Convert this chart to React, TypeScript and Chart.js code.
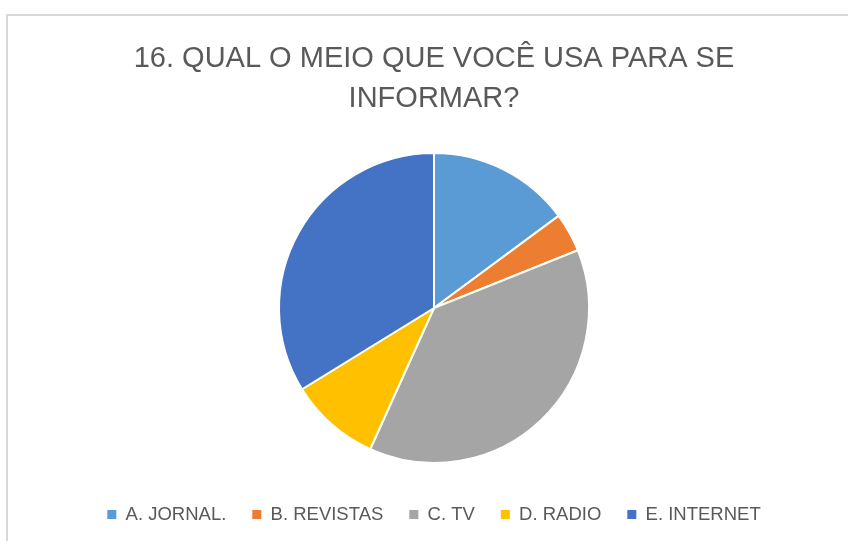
import React, { useEffect, useRef } from "react";
import { Chart, registerables } from "chart.js";

Chart.register(...registerables);

const categories = ["A. JORNAL.", "B. REVISTAS", "C. TV", "D. RADIO", "E. INTERNET"];
const values = [11, 3, 28, 7, 25];
const colors = ["#5B9BD5", "#ED7D31", "#A5A5A5", "#FFC000", "#4472C4"];
const titleLines = ["16. QUAL O MEIO QUE VOCÊ USA PARA SE", "INFORMAR?"];

export default function App() {
  const ref = useRef<HTMLCanvasElement | null>(null);

  useEffect(() => {
    if (!ref.current) return;
    const defaultGen = (Chart as any).overrides.pie.plugins.legend.labels.generateLabels;
    const chart = new Chart(ref.current, {
      type: "pie",
      data: {
        labels: categories,
        datasets: [
          {
            data: values,
            backgroundColor: colors,
            borderColor: "#FFFFFF",
            borderWidth: 2,
            radius: 155,
          } as any,
        ],
      },
      options: {
        responsive: false,
        animation: false,
        layout: { padding: { left: 20, right: 0, top: 0, bottom: 7.25 } },
        plugins: {
          title: {
            display: true,
            text: titleLines,
            color: "#595959",
            font: { family: "'Liberation Sans', Arial, sans-serif", size: 29, weight: "normal", lineHeight: 40 / 29 },
            padding: { top: 38.5, bottom: 18.25 },
          },
          legend: {
            display: true,
            position: "bottom",
            labels: {
              color: "#595959",
              font: { family: "'Liberation Sans', Arial, sans-serif", size: 18.5 },
              boxWidth: 9,
              boxHeight: 9,
              padding: 26,
              generateLabels: (c: any) =>
                defaultGen(c).map((l: any) => ({ ...l, lineWidth: 0, strokeStyle: "rgba(0,0,0,0)" })),
            },
          },
          tooltip: { enabled: false },
        },
      },
    });
    return () => chart.destroy();
  }, []);

  return (
    <div
      style={{
        position: "fixed",
        left: 0,
        top: 0,
        width: 848,
        height: 541,
        overflow: "hidden",
        background: "#FFFFFF",
      }}
    >
      <div
        style={{
          position: "absolute",
          left: 6,
          top: 14,
          width: 900,
          height: 600,
          borderLeft: "2px solid #D9D9D9",
          borderTop: "2px solid #D9D9D9",
        }}
      />
      <canvas
        ref={ref}
        width={848}
        height={541}
        style={{ position: "absolute", left: 0, top: 0, width: 848, height: 541 }}
      />
    </div>
  );
}
